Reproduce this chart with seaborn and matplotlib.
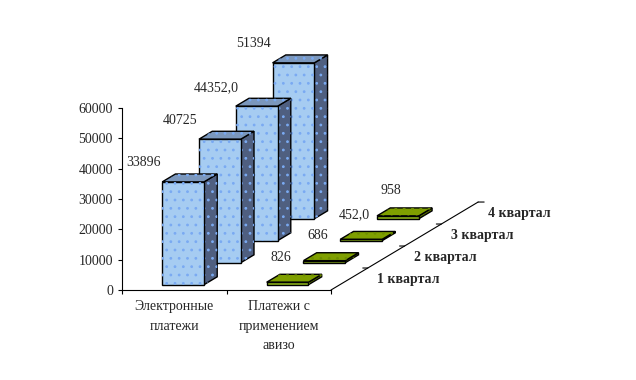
import numpy as np
import pandas as pd
import matplotlib
matplotlib.use("Agg")
import matplotlib.pyplot as plt
import seaborn as sns

# ---- data ----
series_names = ["Электронные платежи", "Платежи с применением авизо"]
category_labels = ["Электронные\nплатежи", "Платежи с\nприменением\nавизо"]
quarters = ["1 квартал", "2 квартал", "3 квартал", "4 квартал"]
electronic = [33896, 40725, 44352.0, 51394]
aviso = [826, 686, 452.0, 958]
electronic_labels = ["33896", "40725", "44352,0", "51394"]
aviso_labels = ["826", "686", "452,0", "958"]
y_ticks = [0, 10000, 20000, 30000, 40000, 50000, 60000]

# ---- style ----
sns.set_style("white")
plt.rcParams["font.family"] = ["Liberation Serif", "DejaVu Serif"]
plt.rcParams["hatch.linewidth"] = 0.8

DEPTH_DX = 0.352      # x-shift per quarter (category units)
DEPTH_DY = 7250.0     # y-shift per quarter (value units)
FRONT, BACK = 0.24, 0.60
BAR_W = 0.40
FS = 10

face_colors = {
    series_names[0]: ("#99CCFF", "#7B97BC", "#4F5F80"),   # front, top, side
    series_names[1]: ("#99CC00", "#7F9F00", "#5C7300"),
}
dot_colors = {series_names[0]: "#7AAAF2", series_names[1]: "#6E8E00"}
front_hatch = {series_names[0]: "..", series_names[1]: None}
label_offsets = {series_names[0]: (-40, 19), series_names[1]: (-7, 25)}

fig = plt.figure(figsize=(6.36, 3.80), dpi=100)
ax = fig.add_axes([122 / 636, (380 - 290) / 380, 209 / 636, 182 / 380])

values = {series_names[0]: electronic, series_names[1]: aviso}
texts = {series_names[0]: electronic_labels, series_names[1]: aviso_labels}

for q in reversed(range(len(quarters))):
    z = 10 + 4 * (len(quarters) - 1 - q)
    fx, fy = (q + FRONT) * DEPTH_DX, (q + FRONT) * DEPTH_DY
    bx, by = (q + BACK) * DEPTH_DX, (q + BACK) * DEPTH_DY
    df = pd.DataFrame({
        "x": np.arange(len(series_names)) + fx,
        "v": [values[s][q] for s in series_names],
        "s": series_names,
    })
    # side and top faces
    for i, s in enumerate(series_names):
        v = values[s][q]
        x0 = i + fx - BAR_W / 2
        x1 = i + fx + BAR_W / 2
        dx, dy = bx - fx, by - fy
        front_c, top_c, side_c = face_colors[s]
        side = [(x1, fy), (x1, fy + v), (x1 + dx, fy + v + dy), (x1 + dx, fy + dy)]
        top = [(x0, fy + v), (x1, fy + v), (x1 + dx, fy + v + dy), (x0 + dx, fy + v + dy)]
        for poly, c in ((side, side_c), (top, top_c)):
            ax.add_patch(plt.Polygon(poly, closed=True, facecolor=c, edgecolor="black",
                                     linewidth=1.0, zorder=z, clip_on=False))
            ax.add_patch(plt.Polygon(poly, closed=True, facecolor="none",
                                     edgecolor=dot_colors[s], linewidth=0, hatch="..",
                                     zorder=z + 0.5, clip_on=False))
    # front faces through seaborn
    sns.barplot(data=df, x="x", y="v", hue="s", palette={s: face_colors[s][0] for s in series_names},
                native_scale=True, width=BAR_W, bottom=fy, errorbar=None, legend=False,
                edgecolor="black", linewidth=1.0, zorder=z + 1, clip_on=False, ax=ax)
    for i, s in enumerate(series_names):
        v = values[s][q]
        if front_hatch[s]:
            ax.add_patch(plt.Rectangle((i + fx - BAR_W / 2, fy), BAR_W, v, facecolor="none",
                                       edgecolor=dot_colors[s], linewidth=0, hatch=front_hatch[s],
                                       zorder=z + 1.5, clip_on=False))
        ax.annotate(texts[s][q], (i + fx, fy + v), xytext=label_offsets[s],
                    textcoords="offset pixels", ha="center", va="center",
                    fontsize=FS, zorder=50, annotation_clip=False)

# depth axis with quarter labels
n = len(quarters)
ax.plot([1.5, 1.5 + n * DEPTH_DX], [0, n * DEPTH_DY], color="black", lw=0.8,
        clip_on=False, zorder=2)
for k in range(1, n + 1):
    ax.annotate("", (1.5 + k * DEPTH_DX, k * DEPTH_DY), xytext=(-5 if k < n else 6, 0),
                textcoords="offset pixels",
                arrowprops=dict(arrowstyle="-", color="black", lw=0.8, shrinkA=0, shrinkB=0),
                annotation_clip=False)
for q, name in enumerate(quarters):
    ax.annotate(name, (1.5 + (q + 0.5) * DEPTH_DX, (q + 0.5) * DEPTH_DY), xytext=(28, 0),
                textcoords="offset pixels", ha="left", va="center", fontsize=FS,
                fontweight="bold", annotation_clip=False)

# axes decoration
ax.set_xlim(-0.5, 1.5)
ax.set_ylim(0, 60000)
ax.set_yticks(y_ticks)
ax.set_yticklabels([str(t) for t in y_ticks], fontsize=FS)
ax.set_xticks([0, 1])
ax.set_xticklabels(category_labels, fontsize=FS, linespacing=1.65)
ax.set_xticks([-0.5, 0.5, 1.5], minor=True)
ax.tick_params(axis="x", which="major", length=0, pad=7.5, bottom=True)
ax.tick_params(axis="x", which="minor", length=3, width=0.8, direction="out",
               color="black", bottom=True)
ax.tick_params(axis="y", length=3, width=0.8, direction="out", color="black", pad=3.5, left=True)
ax.set_xlabel("")
ax.set_ylabel("")
for side in ("top", "right"):
    ax.spines[side].set_visible(False)
for side in ("left", "bottom"):
    ax.spines[side].set_visible(True)
    ax.spines[side].set_color("black")
    ax.spines[side].set_linewidth(0.8)
ax.patch.set_alpha(0)
fig.patch.set_facecolor("white")

fig.savefig("out.png", dpi=100, facecolor="white")
